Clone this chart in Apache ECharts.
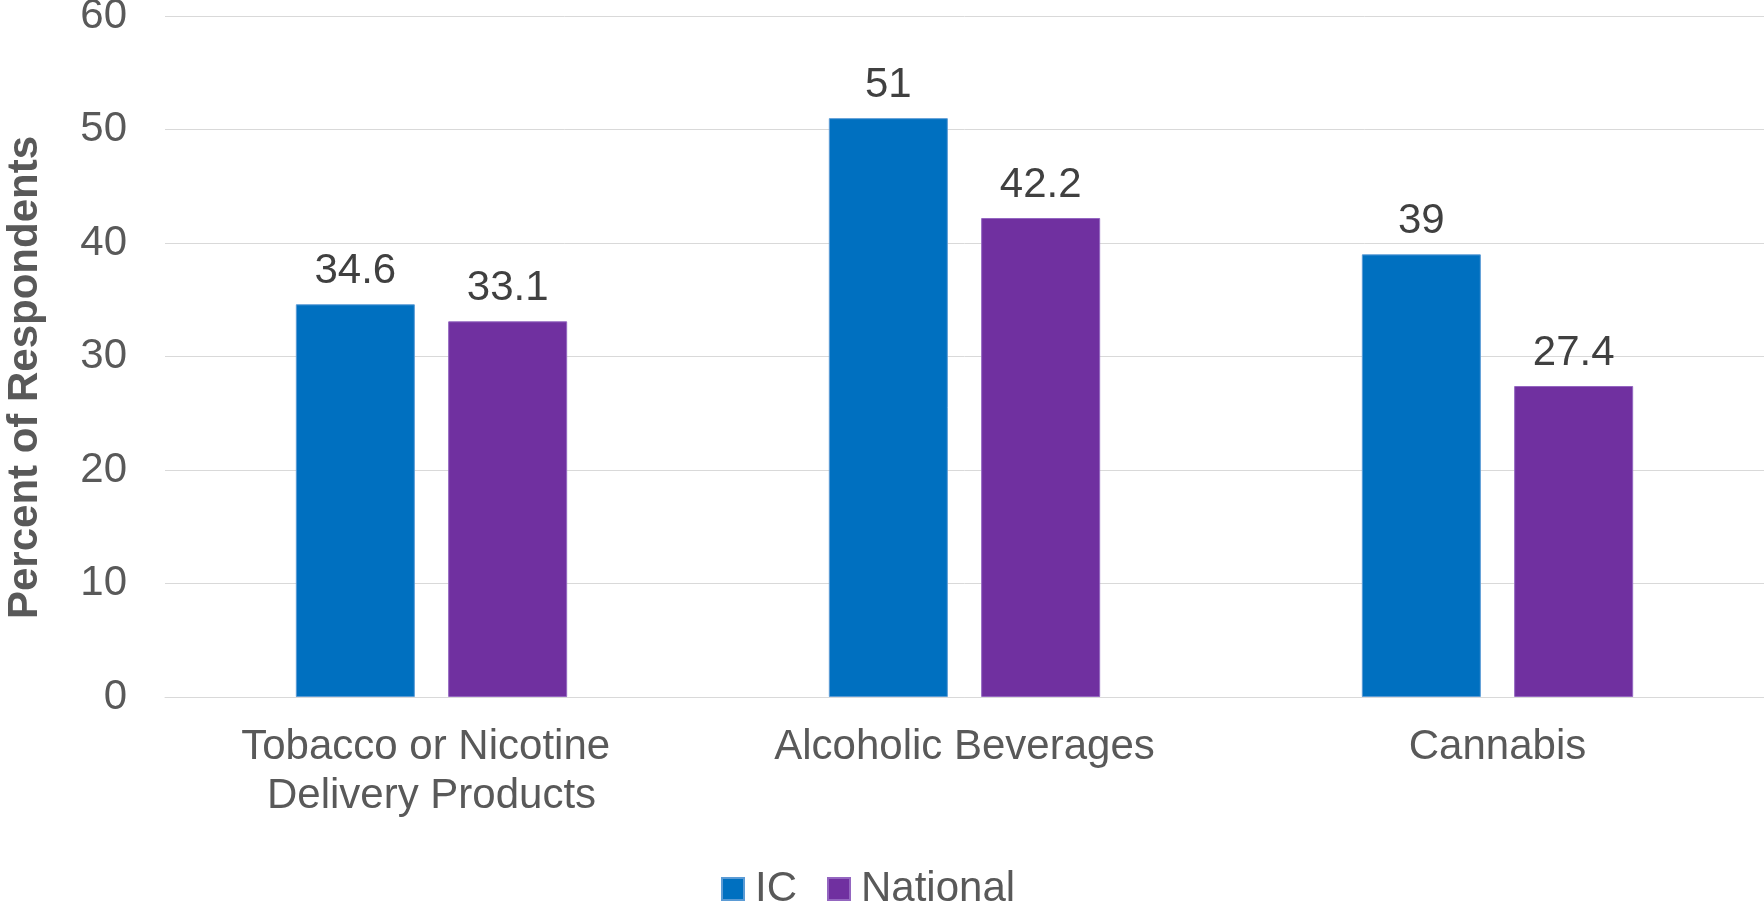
<!DOCTYPE html>
<html>
<head>
<meta charset="utf-8">
<style>
  html, body { margin: 0; padding: 0; background: #ffffff; }
  #chart { width: 1764px; height: 908px; }
</style>
<script src="https://cdn.jsdelivr.net/npm/echarts@6/dist/echarts.min.js"></script>
</head>
<body>
<div id="chart"></div>
<script>
const categories = ['Tobacco or Nicotine Delivery Products', 'Alcoholic Beverages', 'Cannabis'];
const icValues = [34.6, 51, 39];
const nationalValues = [33.1, 42.2, 27.4];
const seriesNames = ['IC', 'National'];
const yAxisTitle = 'Percent of Respondents';

const FONT = '"Liberation Sans", Arial, sans-serif';
const FS = 42;
const chart = echarts.init(document.getElementById('chart'));

const labelStyle = {
  show: true,
  position: 'top',
  distance: 12,
  color: '#404040',
  fontSize: FS,
  fontFamily: FONT
};

chart.setOption({
  animation: false,
  backgroundColor: '#ffffff',
  grid: { left: 165, right: 0, top: 16, bottom: 211, containLabel: false, outerBoundsMode: 'none' },
  legend: {
    data: seriesNames,
    left: 721,
    top: 868,
    padding: 0,
    itemWidth: 22,
    itemHeight: 22,
    itemGap: 30,
    icon: 'rect',
    textStyle: { color: '#595959', fontSize: FS, fontFamily: FONT, padding: [0, 0, 0, 6] }
  },
  xAxis: {
    type: 'category',
    data: categories,
    axisLine: { show: true, lineStyle: { color: '#d9d9d9', width: 1 } },
    axisTick: { show: false },
    axisLabel: {
      color: '#595959',
      fontSize: FS,
      fontFamily: FONT,
      margin: 26,
      lineHeight: 49,
      width: 440,
      overflow: 'break',
      interval: 0
    }
  },
  yAxis: {
    type: 'value',
    min: 0,
    max: 60,
    interval: 10,
    name: yAxisTitle,
    nameLocation: 'middle',
    nameGap: 119,
    nameTextStyle: {
      color: '#595959',
      fontSize: FS,
      fontWeight: 'bold',
      fontFamily: FONT,
      padding: [0, 42, 0, 0]
    },
    axisLine: { show: false },
    axisTick: { show: false },
    splitLine: { lineStyle: { color: '#d9d9d9', width: 1 } },
    axisLabel: { color: '#595959', fontSize: FS, fontFamily: FONT, margin: 38 }
  },
  series: [
    {
      name: seriesNames[0],
      type: 'bar',
      data: icValues,
      barWidth: 119,
      barGap: '28%',
      itemStyle: { color: '#0070C0', borderColor: '#5b9bd5', borderWidth: 1 },
      label: labelStyle
    },
    {
      name: seriesNames[1],
      type: 'bar',
      data: nationalValues,
      barWidth: 119,
      itemStyle: { color: '#7030A0', borderColor: '#9466c0', borderWidth: 1 },
      label: labelStyle
    }
  ]
});
</script>
</body>
</html>
